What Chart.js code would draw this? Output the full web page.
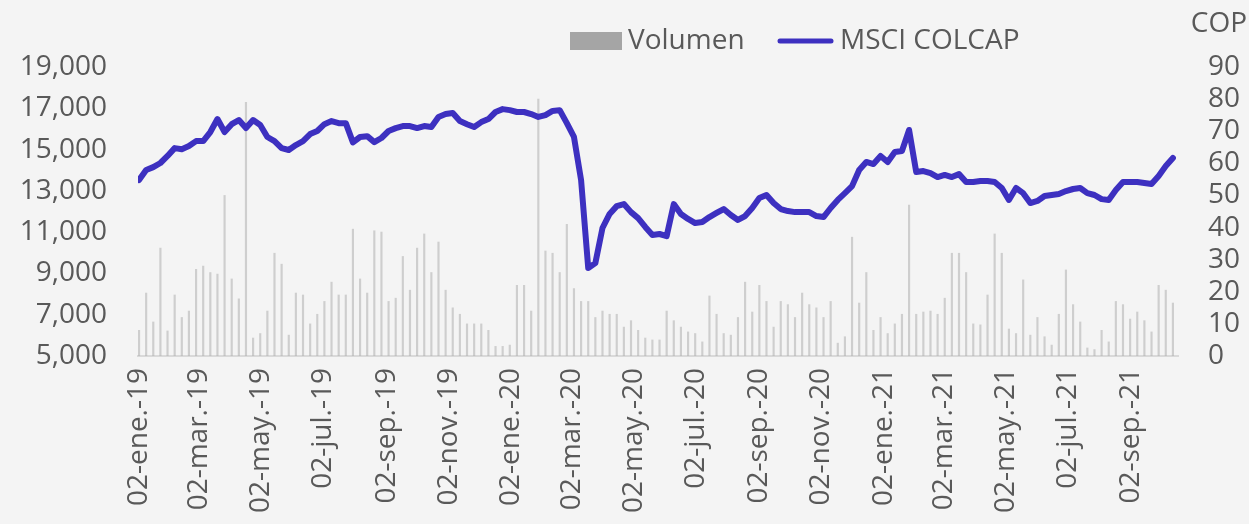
<!DOCTYPE html>
<html lang="es">
<head>
<meta charset="utf-8">
<title>MSCI COLCAP y Volumen</title>
<script src="https://cdn.jsdelivr.net/npm/chart.js@4.4.1/dist/chart.umd.min.js"></script>
<style>
  html, body { margin: 0; padding: 0; background: #f4f4f4; overflow: hidden; }
  #grafico { display: block; }
</style>
</head>
<body>
<canvas id="grafico" width="1249" height="524"></canvas>
<script>
// Datos semanales desde el 02-ene-2019 (un punto cada 7 días)
const fechaInicio = '2019-01-02';

// Índice MSCI COLCAP (puntos)
const colcap = [
  13520, 14010, 14150, 14350, 14690, 15070, 15020, 15170, 15410, 15410,
  15850, 16480, 15850, 16230, 16430, 16040, 16430, 16190, 15610, 15410,
  15070, 14980, 15220, 15410, 15750, 15900, 16230, 16380, 16280, 16280,
  15350, 15610, 15650, 15360, 15560, 15900, 16040, 16140, 16140, 16040,
  16140, 16090, 16580, 16720, 16770, 16380, 16230, 16090, 16330, 16480,
  16820, 16960, 16910, 16820, 16820, 16720, 16580, 16670, 16870, 16910,
  16280, 15610, 13520, 9260, 9500, 11200, 11880, 12260, 12360, 11970,
  11680, 11250, 10860, 10910, 10810, 12360, 11880, 11640, 11440, 11490,
  11730, 11930, 12120, 11830, 11590, 11780, 12170, 12650, 12800, 12410,
  12120, 12020, 11970, 11970, 11970, 11780, 11730, 12170, 12560, 12890,
  13230, 14010, 14400, 14300, 14690, 14400, 14880, 14930, 15950, 13910,
  13960, 13860, 13670, 13770, 13670, 13810, 13430, 13430, 13480, 13480,
  13430, 13140, 12560, 13140, 12890, 12410, 12510, 12750, 12800, 12850,
  12990, 13090, 13140, 12890, 12800, 12600, 12560, 13040, 13430, 13430,
  13430, 13380, 13330, 13720, 14200, 14590
];

// Volumen negociado (COP, eje derecho)
const volumen = [
  8, 19.6, 10.6, 33.6, 7.8, 19, 12, 14, 27, 28,
  26, 25.5, 50, 24, 17.8, 79, 5.6, 7, 14, 32,
  28.6, 6.5, 19.6, 19, 10, 13, 17, 23, 19, 19,
  39.5, 24, 19.6, 39, 38.6, 17, 18, 31, 20.5, 33.6,
  38, 26, 35.5, 20.5, 15, 13, 10, 10, 10, 8,
  3, 3, 3.4, 22, 22, 14, 80, 32.7, 32, 26,
  41, 21, 17, 17, 12, 14, 13, 13, 9, 11,
  8, 5.6, 5, 5, 14, 11, 9, 7.5, 7, 4.4,
  18.7, 13, 7, 6.5, 12, 23, 13.7, 22, 17, 9,
  17, 16, 12, 19.6, 16, 15, 12, 17, 4, 6,
  37, 16.5, 26, 8, 12, 7, 10, 13, 47, 13,
  13.7, 14, 13, 18, 32, 32, 26, 10, 9.7, 19,
  38, 32, 8.4, 7, 23.7, 6.5, 12, 6, 3.4, 13,
  26.8, 16, 10.6, 2.5, 2, 8, 4.4, 17, 16, 11.5,
  13.7, 11, 7.5, 22, 20.5, 16.5
];

// Etiquetas del eje X (cada dos meses)
const fechasEje = [
  '2019-01-02', '2019-03-02', '2019-05-02', '2019-07-02', '2019-09-02', '2019-11-02',
  '2020-01-02', '2020-03-02', '2020-05-02', '2020-07-02', '2020-09-02', '2020-11-02',
  '2021-01-02', '2021-03-02', '2021-05-02', '2021-07-02', '2021-09-02'
];
const etiquetasEje = [
  '02-ene.-19', '02-mar.-19', '02-may.-19', '02-jul.-19', '02-sep.-19', '02-nov.-19',
  '02-ene.-20', '02-mar.-20', '02-may.-20', '02-jul.-20', '02-sep.-20', '02-nov.-20',
  '02-ene.-21', '02-mar.-21', '02-may.-21', '02-jul.-21', '02-sep.-21'
];

const colorLinea = '#3d30c0';
const colorVolumen = '#a5a5a5';
const colorTexto = '#595959';

// días transcurridos desde la fecha inicial
function diasDesdeInicio(fecha) {
  return Math.round((Date.parse(fecha) - Date.parse(fechaInicio)) / 86400000);
}

const puntosColcap = colcap.map((v, i) => ({ x: i * 7, y: v }));
const puntosVolumen = volumen.map((v, i) => ({ x: i * 7, y: v }));

Chart.defaults.font.family = "'Open Sans', sans-serif";
Chart.defaults.font.size = 28;
Chart.defaults.color = colorTexto;

// Leyenda y rótulo "COP" dibujados a mano (posición como en el original)
const leyendaPropia = {
  id: 'leyendaPropia',
  afterDraw(chart) {
    const ctx = chart.ctx;
    const ds = chart.data.datasets;
    ctx.save();
    ctx.font = "28px 'Open Sans', sans-serif";
    ctx.textBaseline = 'middle';
    ctx.fillStyle = colorVolumen;
    ctx.fillRect(570, 32, 52, 18);
    ctx.fillStyle = colorTexto;
    ctx.fillText(ds[1].label, 628, 41);
    ctx.strokeStyle = colorLinea;
    ctx.lineWidth = 5;
    ctx.lineCap = 'round';
    ctx.beginPath();
    ctx.moveTo(780, 41);
    ctx.lineTo(831, 41);
    ctx.stroke();
    ctx.fillText(ds[0].label, 840, 41);
    ctx.textAlign = 'right';
    ctx.fillText('COP', 1247, 24);
    ctx.restore();
  }
};

const ctx = document.getElementById('grafico');
window.myChart = new Chart(ctx, {
  data: {
    datasets: [{
      type: 'line',
      label: 'MSCI COLCAP',
      data: puntosColcap,
      yAxisID: 'y',
      borderColor: colorLinea,
      borderWidth: 6,
      borderJoinStyle: 'round',
      borderCapStyle: 'round',
      pointRadius: 0,
      tension: 0,
      order: 0
    }, {
      type: 'bar',
      label: 'Volumen',
      data: puntosVolumen,
      yAxisID: 'y1',
      backgroundColor: 'rgba(175, 175, 175, 0.55)',
      barThickness: 1.5,
      order: 1
    }]
  },
  options: {
    responsive: false,
    animation: false,
    layout: { padding: { top: 67, left: 0, right: 0, bottom: 0 } },
    plugins: {
      legend: { display: false },
      tooltip: { enabled: false }
    },
    scales: {
      x: {
        type: 'linear',
        offset: false,
        min: -1,
        max: 1020,
        grid: { display: false, drawTicks: false },
        border: { display: true, color: '#d9d9d9', width: 2 },
        afterBuildTicks: (scale) => {
          scale.ticks = fechasEje.map(f => ({ value: diasDesdeInicio(f) }));
        },
        afterFit: (scale) => { scale.height = 168; },
        ticks: {
          autoSkip: false,
          minRotation: 90,
          maxRotation: 90,
          padding: 12,
          callback: (valor, indice) => etiquetasEje[indice]
        }
      },
      y: {
        position: 'left',
        min: 5000,
        max: 19000,
        grid: { display: false, drawTicks: false },
        border: { display: false },
        afterFit: (scale) => { scale.width = 138; },
        ticks: {
          stepSize: 2000,
          autoSkip: false,
          padding: 31,
          callback: (valor) => valor.toLocaleString('en-US')
        }
      },
      y1: {
        position: 'right',
        min: 0,
        max: 90,
        grid: { display: false, drawTicks: false },
        border: { display: false },
        afterFit: (scale) => { scale.width = 71; },
        ticks: {
          stepSize: 10,
          autoSkip: false,
          padding: 30
        }
      }
    }
  },
  plugins: [leyendaPropia]
});
</script>
</body>
</html>
